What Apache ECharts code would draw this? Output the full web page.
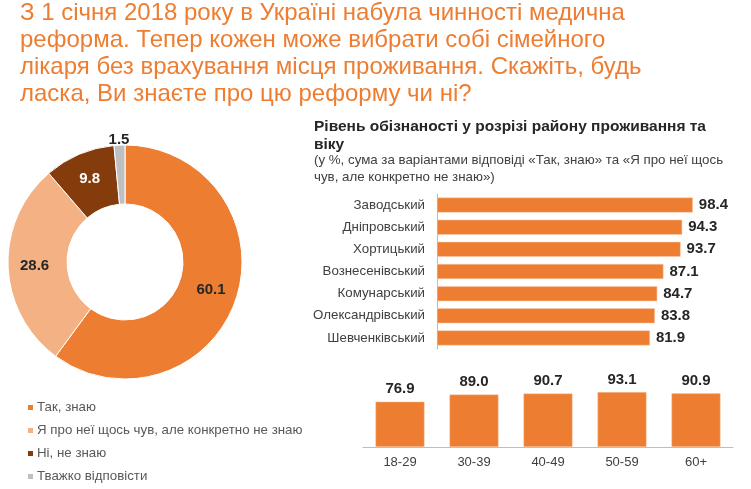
<!DOCTYPE html>
<html>
<head>
<meta charset="utf-8">
<script src="https://cdn.jsdelivr.net/npm/echarts@6/dist/echarts.min.js"></script>
<style>
  html, body { margin: 0; padding: 0; background: #fff; }
  #chart { width: 751px; height: 489px; }
</style>
</head>
<body>
<div id="chart"></div>
<script>
const answerNames = ["Так, знаю", "Я про неї щось чув, але конкретно не знаю", "Ні, не знаю", "Тважко відповісти"];
const answerValues = [60.1, 28.6, 9.8, 1.5];
const answerColors = ["#ED7D31", "#F4B183", "#843C0C", "#BFBFBF"];

const districts = ["Заводський", "Дніпровський", "Хортицький", "Вознесенівський", "Комунарський", "Олександрівський", "Шевченківський"];
const districtValues = [98.4, 94.3, 93.7, 87.1, 84.7, 83.8, 81.9];

const ageGroups = ["18-29", "30-39", "40-49", "50-59", "60+"];
const ageValues = [76.9, 89.0, 90.7, 93.1, 90.9];

const font = "'Liberation Sans', Arial, sans-serif";
const orange = "#ED7D31";
const axisGreen = "#A9D18E";

const chart = echarts.init(document.getElementById("chart"));

const pieData = answerValues.map((v, i) => {
    const item = { name: answerNames[i], value: v, itemStyle: { color: answerColors[i] } };
    if (i === 2) item.label = { color: "#ffffff" };
    if (i === 3) item.label = { position: "outside", distance: 0 };
    return item;
});

const option = {
    animation: false,
    textStyle: { fontFamily: font },
    graphic: [
        {
            type: "text",
            x: 20, y: 0,
            style: {
                text: "З 1 січня 2018 року в Україні набула чинності медична\nреформа. Тепер кожен може вибрати собі сімейного\nлікаря без врахування місця проживання. Скажіть, будь\nласка, Ви знаєте про цю реформу чи ні?",
                fill: orange,
                fontSize: 24,
                fontFamily: font,
                lineHeight: 27,
            },
        },
    ],
    title: [
        {
            text: "Рівень обізнаності у розрізі району проживання та\nвіку",
            left: 309, top: 113,
            textStyle: { color: "#262626", fontSize: 15.5, fontWeight: "bold", lineHeight: 18 },
        },
        {
            text: "(у %, сума за варіантами відповіді «Так, знаю» та «Я про неї щось\nчув, але конкретно не знаю»)",
            left: 309, top: 147,
            textStyle: { color: "#404040", fontSize: 13.3, fontWeight: "normal", lineHeight: 17 },
        },
    ],
    legend: {
        orient: "vertical",
        left: 21, top: 396,
        icon: "rect",
        itemWidth: 7, itemHeight: 7, itemGap: 10,
        textStyle: { color: "#595959", fontSize: 13.3, padding: [0, 0, 0, -2] },
        data: answerNames,
    },
    grid: [
        { left: 437, right: 54, top: 194, bottom: 140 },
        { left: 363, right: 18, top: 388, bottom: 42 },
    ],
    xAxis: [
        { gridIndex: 0, type: "value", min: 0, max: 100, show: false },
        {
            gridIndex: 1, type: "category", data: ageGroups,
            axisLine: { lineStyle: { color: axisGreen } },
            axisTick: { lineStyle: { color: axisGreen }, length: 4 },
            axisLabel: { color: "#404040", fontSize: 13, margin: 9 },
        },
    ],
    yAxis: [
        {
            gridIndex: 0, type: "category", data: districts, inverse: true,
            axisLine: { lineStyle: { color: axisGreen } },
            axisTick: { lineStyle: { color: axisGreen }, length: 4 },
            axisLabel: { color: "#404040", fontSize: 13.3, margin: 12 },
        },
        { gridIndex: 1, type: "value", min: 0, max: 100, show: false },
    ],
    series: [
        {
            type: "pie",
            center: [125, 262],
            radius: [58, 117],
            startAngle: 90,
            data: pieData,
            itemStyle: { borderColor: "#ffffff", borderWidth: 1 },
            label: {
                show: true, position: "inside",
                formatter: (p) => p.value.toFixed(1),
                color: "#262626", fontSize: 15, fontWeight: "bold",
            },
            labelLine: { show: false, length: 1, length2: 0 },
            // nudge the small outside label so it sits centred above its slice
            labelLayout: (params) => params.dataIndex === 3 ? { dx: 15, dy: -4 } : {},
        },
        {
            type: "bar", xAxisIndex: 0, yAxisIndex: 0,
            data: districtValues,
            barWidth: 15,
            itemStyle: { color: orange, borderColor: "#F8CBAD", borderWidth: 0.5 },
            label: {
                show: true, position: "right", distance: 6,
                formatter: (p) => p.value.toFixed(1),
                color: "#262626", fontSize: 15, fontWeight: "bold",
            },
        },
        {
            type: "bar", xAxisIndex: 1, yAxisIndex: 1,
            data: ageValues,
            barWidth: 49,
            itemStyle: { color: orange, borderColor: "#F8CBAD", borderWidth: 0.5 },
            label: {
                show: true, position: "top", distance: 5,
                formatter: (p) => p.value.toFixed(1),
                color: "#262626", fontSize: 15, fontWeight: "bold",
            },
        },
    ],
};

chart.setOption(option);
</script>
</body>
</html>
